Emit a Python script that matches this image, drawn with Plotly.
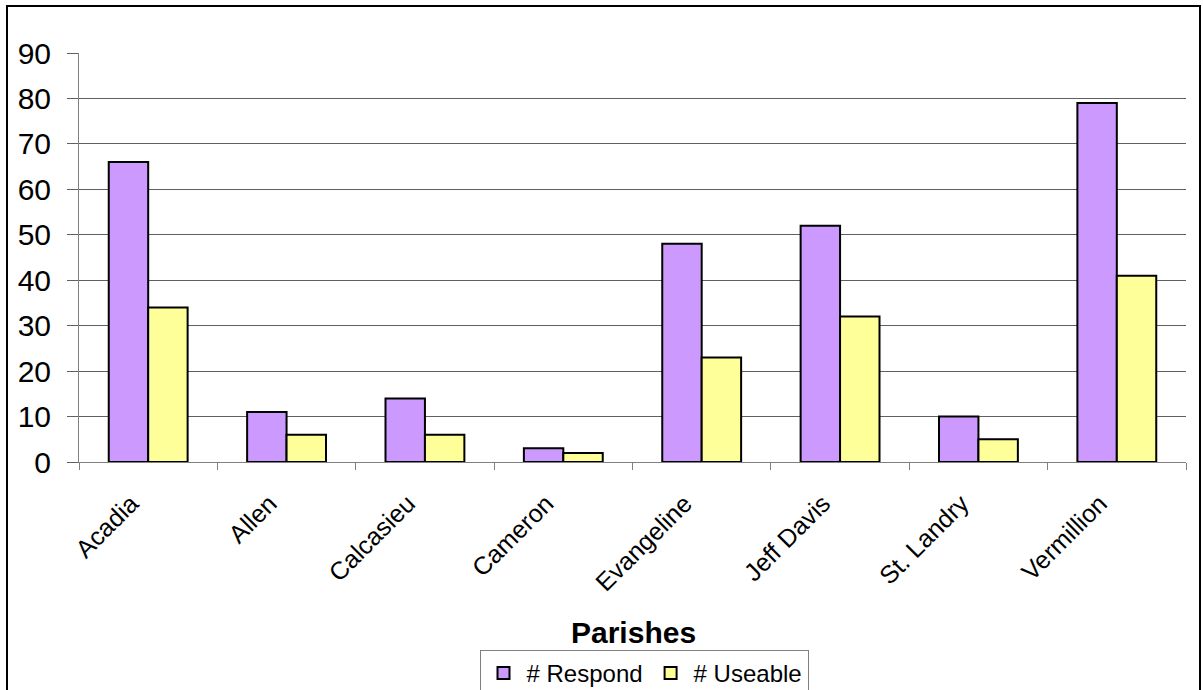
import plotly.graph_objects as go

parishes = ["Acadia", "Allen", "Calcasieu", "Cameron", "Evangeline", "Jeff Davis", "St. Landry", "Vermillion"]
respond = [66, 11, 14, 3, 48, 52, 10, 79]
useable = [34, 6, 6, 2, 23, 32, 5, 41]
y_ticks = [0, 10, 20, 30, 40, 50, 60, 70, 80, 90]

FONT = "Liberation Sans, Arial, sans-serif"
W, H = 1203, 690
L, R, T, B = 79, 17, 53, 228
pw = W - L - R
ph = H - T - B

def px2paper_x(px):
    return (px - L) / pw

def px2paper_y(py):
    return (H - B - py) / ph

fig = go.Figure()
fig.add_trace(go.Bar(x=parishes, y=respond, name="# Respond",
                     marker=dict(color="#CC99FF", line=dict(color="black", width=2))))
fig.add_trace(go.Bar(x=parishes, y=useable, name="# Useable",
                     marker=dict(color="#FFFF99", line=dict(color="black", width=2))))

fig.update_layout(
    width=W, height=H,
    margin=dict(l=L, r=R, t=T, b=B, pad=0, autoexpand=False),
    paper_bgcolor="white", plot_bgcolor="white",
    barmode="group", bargap=0.43, bargroupgap=0,
    font=dict(family=FONT, color="black"),
    showlegend=True,
    legend=dict(orientation="h", xref="container", yref="container",
                x=644 / W, xanchor="center",
                y=1 - 650 / H, yanchor="top",
                bordercolor="#808080", borderwidth=1,
                font=dict(size=24, family=FONT), itemwidth=36,
                traceorder="normal"),
    xaxis=dict(type="category", tickangle=-45, tickfont=dict(size=25, family=FONT),
               showline=True, linecolor="#808080", linewidth=1,
               ticks="outside", tickson="boundaries", ticklen=7, tickcolor="#808080",
               ticklabelstandoff=16, ticklabelshift=-17,
               showgrid=False, automargin=False),
    yaxis=dict(range=[0, 90], tickvals=y_ticks, tickfont=dict(size=30, family=FONT),
               showline=True, linecolor="#808080", linewidth=1,
               ticks="outside", ticklen=11, tickcolor="#606060", ticklabelstandoff=10,
               showgrid=True, gridcolor="#606060", gridwidth=1,
               zeroline=False, automargin=False),
    annotations=[dict(text="<b>Parishes</b>", xref="paper", yref="paper",
                      x=px2paper_x(633), y=px2paper_y(632), xanchor="center", yanchor="middle",
                      showarrow=False, font=dict(size=30, family=FONT))],
    shapes=[dict(type="rect", xref="paper", yref="paper",
                 x0=px2paper_x(7), x1=px2paper_x(1200),
                 y0=px2paper_y(710), y1=px2paper_y(6),
                 line=dict(color="black", width=2), fillcolor="rgba(0,0,0,0)", layer="below")],
)

fig.write_html("out.html")
